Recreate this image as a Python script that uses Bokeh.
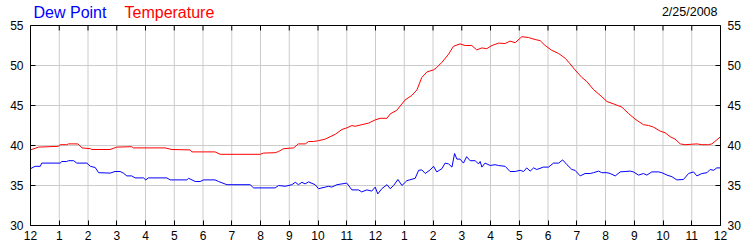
from bokeh.plotting import figure
from bokeh.models import Range1d, LinearAxis, FixedTicker, ColumnDataSource
from bokeh.embed import file_html
from bokeh.resources import INLINE

# ---- data ----
temp_hours = [0, 0.28, 0.97, 1.03, 1.26, 1.32, 1.65, 1.79, 2.08, 2.13, 2.77, 3.0, 3.52, 3.58, 4.68, 4.92,
              5.55, 5.61, 6.42, 6.6, 7.99, 8.1, 8.51, 8.63, 8.8, 9.15, 9.32, 9.56, 9.67, 9.84,
              10.02, 10.25, 10.6, 10.83, 11.0, 11.18, 11.29, 11.52, 11.76, 11.99, 12.16, 12.4, 12.51,
              12.74, 13.03, 13.26, 13.44, 13.61, 13.79, 14.02, 14.13, 14.31, 14.54, 14.71, 14.94,
              15.12, 15.35, 15.52, 15.7, 15.87, 16.05, 16.28, 16.51, 16.68, 16.86, 17.09, 17.32,
              17.55, 17.73, 17.9, 18.13, 18.37, 18.6, 18.77, 18.94, 19.18, 19.35, 19.58, 19.87,
              20.05, 20.28, 20.57, 20.8, 21.03, 21.32, 21.5, 21.67, 21.9, 22.07, 22.25, 22.42, 22.6,
              22.77, 23.18, 23.35, 23.58, 23.7, 23.87, 24.0]
temperature = [39.45, 39.8, 39.9, 40.1, 40.1, 40.2, 40.2, 39.7, 39.6, 39.5, 39.5, 39.8, 39.85, 39.7, 39.7, 39.5,
               39.45, 39.2, 39.2, 38.9, 38.9, 39.05, 39.1, 39.25, 39.6, 39.7, 40.2, 40.2, 40.5, 40.5,
               40.6, 40.8, 41.4, 42.0, 42.2, 42.5, 42.4, 42.6, 42.8, 43.2, 43.4, 43.4, 43.95,
               44.4, 45.7, 46.25, 46.95, 48.5, 49.2, 49.45, 49.75, 50.4, 51.4, 52.4, 52.7,
               52.5, 52.5, 51.95, 52.2, 52.1, 52.5, 52.8, 52.75, 53.05, 52.85, 53.6, 53.5,
               53.25, 53.1, 52.5, 51.9, 51.5, 50.9, 50.2, 49.45, 48.5, 48.0, 47.0, 46.1,
               45.5, 45.2, 44.8, 44.0, 43.3, 42.6, 42.5, 42.3, 41.8, 41.6, 41.1, 40.8, 40.2,
               40.1, 40.2, 40.1, 40.1, 40.2, 40.7, 41.1]

dew_hours = [0, 0.16, 0.34, 0.39, 1.03, 1.09, 1.26, 1.32, 1.5, 1.61, 1.96, 2.08, 2.25, 2.37, 2.77, 2.94,
             3.12, 3.23, 3.35, 3.52, 3.64, 3.93, 4.01, 4.1, 4.74, 4.86, 5.44, 5.5, 5.73, 5.9, 6.02,
             6.42, 6.54, 6.83, 7.64, 7.76, 8.51, 8.63, 8.86, 9.09, 9.21, 9.32, 9.44, 9.55, 9.67,
             9.9, 10.02, 10.25, 10.37, 10.48, 10.66, 10.83, 11.0, 11.18, 11.41, 11.52, 11.7, 11.87,
             11.99, 12.08, 12.22, 12.4, 12.51, 12.63, 12.78, 12.92, 13.09, 13.38, 13.5, 13.61, 13.73,
             13.9, 14.02, 14.13, 14.31, 14.42, 14.54, 14.66, 14.75, 14.83, 14.94, 15.06, 15.17, 15.29,
             15.47, 15.58, 15.64, 15.7, 15.81, 15.99, 16.16, 16.28, 16.51, 16.68, 16.86, 17.03, 17.15,
             17.26, 17.38, 17.5, 17.61, 17.84, 18.02, 18.19, 18.37, 18.51, 18.66, 18.83, 18.94, 19.12,
             19.29, 19.47, 19.58, 19.76, 19.87, 20.05, 20.16, 20.34, 20.51, 20.68, 20.86, 20.97, 21.15,
             21.32, 21.44, 21.61, 21.85, 21.96, 22.14, 22.31, 22.48, 22.71, 22.89, 23.06, 23.18, 23.35,
             23.53, 23.64, 23.76, 23.87, 24.0]
dew_point = [37.1, 37.4, 37.4, 37.8, 37.8, 38.0, 38.0, 38.1, 38.1, 37.8, 37.8, 37.4, 37.25, 36.6, 36.55, 36.75,
             36.75, 36.55, 36.2, 36.2, 35.95, 35.95, 35.7, 35.95, 35.95, 35.7, 35.7, 35.9, 35.5, 35.5, 35.7,
             35.7, 35.5, 35.1, 35.1, 34.7, 34.7, 35.0, 34.9, 35.1, 35.4, 35.1, 35.4, 35.2, 35.45,
             35.1, 34.6, 34.8, 34.9, 34.8, 35.1, 35.2, 35.3, 34.45, 34.45, 34.2, 34.45, 34.3,
             34.8, 33.95, 34.6, 35.1, 34.6, 35.0, 35.75, 35.0, 35.6, 35.9, 36.9, 36.95, 36.5,
             36.95, 37.4, 36.7, 37.1, 37.8, 37.7, 37.3, 39.0, 38.3, 38.3, 37.8, 38.6, 38.1,
             38.1, 37.7, 38.0, 37.3, 37.8, 37.5, 37.6, 37.5, 37.4, 36.75, 36.75, 36.9, 36.75,
             37.2, 36.8, 37.2, 37.0, 37.3, 37.3, 37.8, 37.8, 38.2, 37.6, 37.0, 36.9, 36.2,
             36.5, 36.5, 36.6, 36.8, 36.6, 36.6, 36.5, 36.2, 36.7, 36.75, 36.8, 36.7, 36.3,
             36.5, 36.3, 36.7, 36.7, 36.6, 36.3, 36.1, 35.7, 35.75, 36.5, 36.7, 36.2, 36.5,
             36.6, 37.0, 36.9, 37.2, 37.2]

x_ticks = list(range(25))
x_tick_labels = ["12", "1", "2", "3", "4", "5", "6", "7", "8", "9", "10", "11",
                 "12", "1", "2", "3", "4", "5", "6", "7", "8", "9", "10", "11", "12"]
y_ticks = [30, 35, 40, 45, 50, 55]
y_min, y_max = 30, 55
series_names = ["Dew Point", "Temperature"]
series_colors = ["#0000ff", "#ff0000"]
date_text = "2/25/2008"

FONT = "Liberation Sans"
PX_PER_UNIT = 8.0           # 200 px frame for 25 degrees
PX_PER_HOUR = 690 / 24.0
TOP_PAD = 25                # header strip above the chart box, px
y_top = y_max + TOP_PAD / PX_PER_UNIT
tick_len = 5 / PX_PER_UNIT

p = figure(width=750, height=250, output_backend="svg", toolbar_location=None,
           x_range=Range1d(0, 24), y_range=Range1d(y_min, y_top),
           x_axis_location=None, y_axis_location=None,
           min_border_left=30, min_border_right=30, min_border_top=0, min_border_bottom=25)
p.background_fill_color = "white"
p.border_fill_color = "white"
p.outline_line_color = None
p.xgrid.visible = False

def style_axis(ax):
    ax.axis_line_color = "black"
    ax.axis_line_width = 1
    ax.major_tick_in = 5
    ax.major_tick_out = 0
    ax.minor_tick_in = 0
    ax.minor_tick_out = 0
    ax.major_tick_line_color = "black"
    ax.major_label_text_font = FONT
    ax.major_label_text_font_size = "12px"
    ax.major_label_text_color = "black"

p.ygrid.ticker = FixedTicker(ticks=y_ticks)
p.ygrid.grid_line_color = "#cccccc"
p.ygrid.grid_line_width = 1

# vertical hour grid lines, only inside the chart box
p.segment(x0=x_ticks, y0=[y_min] * len(x_ticks), x1=x_ticks, y1=[y_max] * len(x_ticks),
          line_color="#cccccc", line_width=1)

xb = LinearAxis(ticker=FixedTicker(ticks=x_ticks))
xb.major_label_overrides = {i: s for i, s in zip(x_ticks, x_tick_labels)}
style_axis(xb)
xb.major_label_standoff = 5
p.add_layout(xb, "below")

yl = LinearAxis(ticker=FixedTicker(ticks=y_ticks), bounds=(y_min, y_max))
style_axis(yl)
yl.major_label_standoff = 7
p.add_layout(yl, "left")

yr = LinearAxis(ticker=FixedTicker(ticks=y_ticks), bounds=(y_min, y_max))
style_axis(yr)
yr.major_label_standoff = 7
p.add_layout(yr, "right")

# top border line of the chart box with inward ticks
p.segment(x0=[x_ticks[0]], y0=[y_max], x1=[x_ticks[-1]], y1=[y_max], line_color="black", line_width=1)
p.segment(x0=x_ticks, y0=[y_max] * len(x_ticks), x1=x_ticks, y1=[y_max - tick_len] * len(x_ticks),
          line_color="black", line_width=1)

p.line(temp_hours, temperature, line_color=series_colors[1], line_width=1)
p.line(dew_hours, dew_point, line_color=series_colors[0], line_width=1)

# header texts (series names on the left, date on the right)
hdr = ColumnDataSource(dict(
    x=[3 / PX_PER_HOUR, 94 / PX_PER_HOUR, 24 - 3 / PX_PER_HOUR],
    y=[y_max + 13 / PX_PER_UNIT, y_max + 13 / PX_PER_UNIT, y_max + 13.5 / PX_PER_UNIT],
    text=series_names + [date_text],
    color=series_colors + ["black"],
    align=["left", "left", "right"],
    size=["16px", "16px", "12.5px"],
))
p.text(x="x", y="y", text="text", text_color="color", text_align="align",
       text_font_size="size", text_baseline="alphabetic",
       text_font={"value": FONT}, source=hdr)

open("out.html", "w").write(file_html(p, INLINE))
